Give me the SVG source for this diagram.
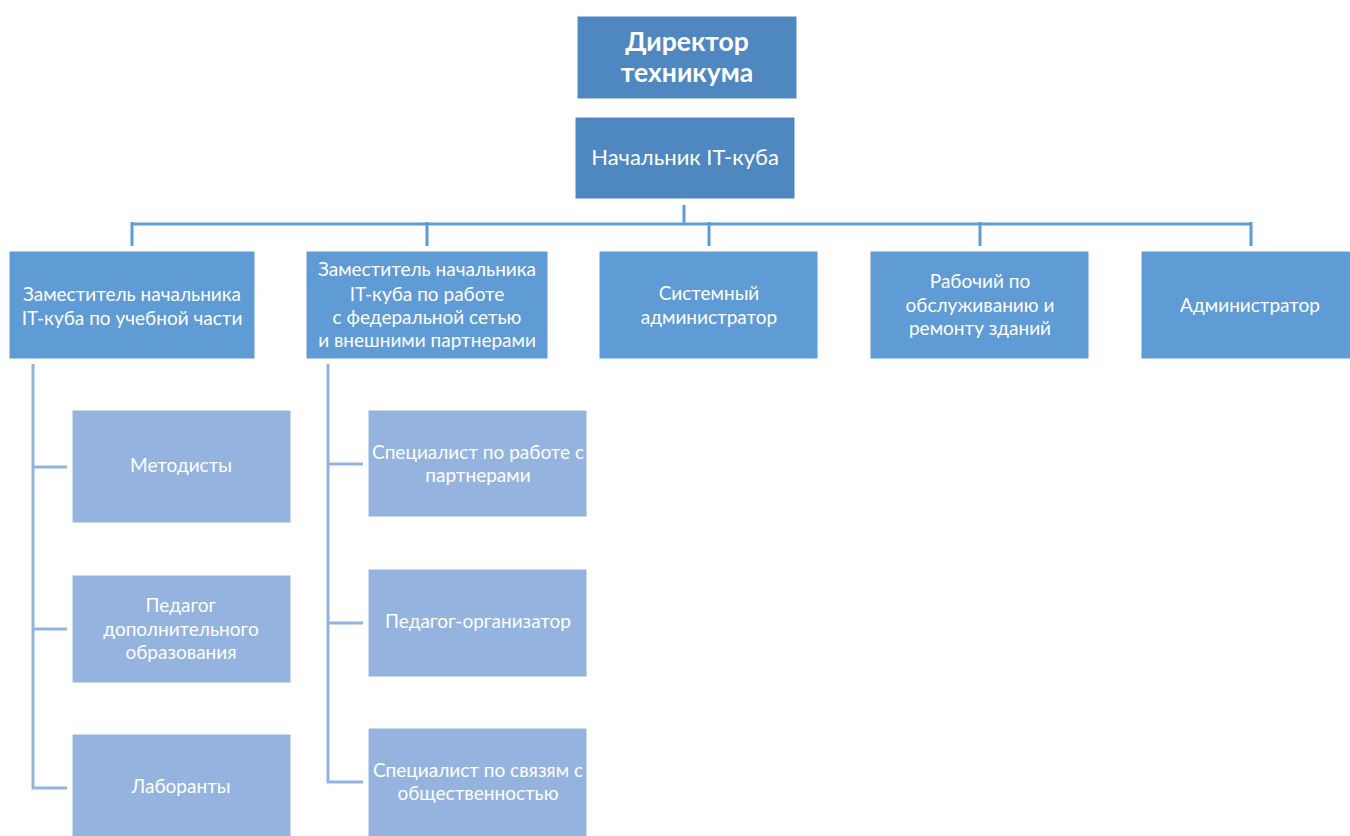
<svg xmlns="http://www.w3.org/2000/svg" width="1350" height="836" viewBox="0 0 1350 836">
<style>
.top{fill:#4f88c0;stroke:#ffffff;stroke-width:1}
.mid{fill:#5f9bd5;stroke:#ffffff;stroke-width:1}
.sub{fill:#94b4df;stroke:#ffffff;stroke-width:1}
text{font-family:Lato,"Open Sans","Liberation Sans",sans-serif;fill:#ffffff;text-anchor:middle;font-size:19px}
.big{font-size:26.5px;font-weight:bold}
.head{font-size:22px}
.bus{stroke:#5f9bd5;stroke-width:3;fill:none}
.sbus{stroke:#94b4df;stroke-width:3;fill:none}
</style>
<rect width="1350" height="836" fill="#ffffff"/>
<g id="connectors">
<path class="bus" d="M684 205V224M132 224H1251M132 222V246M427 222V246M709 222V246M980 222V246M1251 222V246"/>
<path class="sbus" d="M33 364V788H67M33 467H67M33 629H67"/>
<path class="sbus" d="M328 364V782H363M328 464H363M328 623H363"/>
</g>
<g id="director"><rect class="top" x="577" y="16" width="220" height="83"/><text class="big" x="687" y="51">Директор</text><text class="big" x="687" y="82">техникума</text></g>
<g id="head"><rect class="top" x="575" y="117" width="220" height="82"/><text class="head" x="685" y="165">Начальник IT-куба</text></g>
<g id="dep1"><rect class="mid" x="9" y="251" width="246" height="108"/><text x="132" y="301">Заместитель начальника</text><text x="132" y="325">IT-куба по учебной части</text></g>
<g id="dep2"><rect class="mid" x="306" y="251" width="242" height="108"/><text x="427" y="276">Заместитель начальника</text><text x="427" y="301">IT-куба по работе</text><text x="427" y="324">с федеральной сетью</text><text x="427" y="347">и внешними партнерами</text></g>
<g id="sysadmin"><rect class="mid" x="599" y="251" width="219" height="108"/><text x="709" y="300">Системный</text><text x="709" y="324">администратор</text></g>
<g id="worker"><rect class="mid" x="870" y="251" width="219" height="108"/><text x="980" y="288">Рабочий по</text><text x="980" y="312">обслуживанию и</text><text x="980" y="335">ремонту зданий</text></g>
<g id="admin"><rect class="mid" x="1141" y="251" width="212" height="108"/><text x="1250" y="312">Администратор</text></g>
<g id="methodists"><rect class="sub" x="72" y="410" width="219" height="113"/><text x="181" y="472">Методисты</text></g>
<g id="teacher"><rect class="sub" x="72" y="575" width="219" height="108"/><text x="181" y="612">Педагог</text><text x="181" y="636">дополнительного</text><text x="181" y="659">образования</text></g>
<g id="lab"><rect class="sub" x="72" y="734" width="219" height="106"/><text x="181" y="793">Лаборанты</text></g>
<g id="partners"><rect class="sub" x="368" y="410" width="219" height="107"/><text x="478" y="459">Специалист по работе с</text><text x="478" y="482">партнерами</text></g>
<g id="organizer"><rect class="sub" x="368" y="569" width="219" height="108"/><text x="478" y="628">Педагог-организатор</text></g>
<g id="pr"><rect class="sub" x="368" y="728" width="219" height="112"/><text x="478" y="777">Специалист по связям с</text><text x="478" y="800">общественностью</text></g>
</svg>
